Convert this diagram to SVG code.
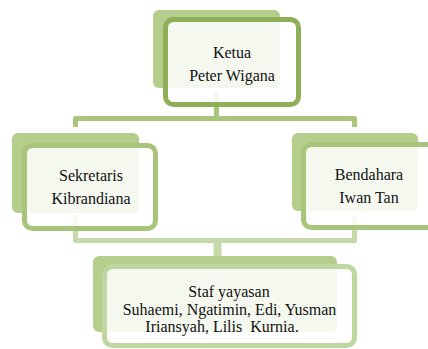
<svg xmlns="http://www.w3.org/2000/svg" width="428" height="349" viewBox="0 0 428 349">
<style>
.back{fill:#b5ce8c}
.front{fill:#ffffff;fill-opacity:0.86;stroke-width:5}
.t{font-family:"Liberation Serif","Times New Roman",serif;font-size:16px;fill:#111111;text-anchor:middle;white-space:pre}
.c1{fill:none;stroke:#aac57b;stroke-width:5;stroke-linejoin:round}
.c2{fill:none;stroke:#c6d9aa;stroke-width:5;stroke-linejoin:round}
</style>
<rect width="428" height="349" fill="#ffffff"/>
<g id="connectors">
<path class="c1" d="M216.5,92 V118.5"/>
<path class="c1" d="M75.5,127 V118.5 H354.5 V127"/>
<path class="c2" d="M75.5,215 V240.5 H354.5 V215"/>
<path class="c2" d="M217.5,240 V257" style="stroke-width:8"/>
</g>
<g id="ketua">
<rect class="back" x="153" y="10" width="127" height="78" rx="6"/>
<rect class="front" x="165.5" y="19.5" width="133" height="85" rx="8" stroke="#8eae57"/>
<text class="t" x="232" y="58">Ketua</text>
<text class="t" x="232" y="81">Peter Wigana</text>
</g>
<g id="sekretaris">
<rect class="back" x="12" y="133" width="127" height="80" rx="6"/>
<rect class="front" x="24.5" y="145.5" width="131" height="83" rx="8" stroke="#a8c47a"/>
<text class="t" x="91" y="181">Sekretaris</text>
<text class="t" x="91" y="204">Kibrandiana</text>
</g>
<g id="bendahara">
<rect class="back" x="292" y="133" width="126" height="78" rx="6"/>
<rect class="front" x="303.5" y="144.5" width="140" height="83" rx="8" stroke="#a8c47a"/>
<text class="t" x="369" y="180">Bendahara</text>
<text class="t" x="369" y="203">Iwan Tan</text>
</g>
<g id="staf">
<rect class="back" x="93" y="256" width="244" height="76" rx="6"/>
<rect class="front" x="104.5" y="266.5" width="250" height="79" rx="8" stroke="#bed69f"/>
<text class="t" x="229" y="297">Staf yayasan</text>
<text class="t" x="229.5" y="315">Suhaemi, Ngatimin, Edi, Yusman</text>
<text class="t" x="222" y="332">Iriansyah, Lilis  Kurnia.</text>
</g>
</svg>
